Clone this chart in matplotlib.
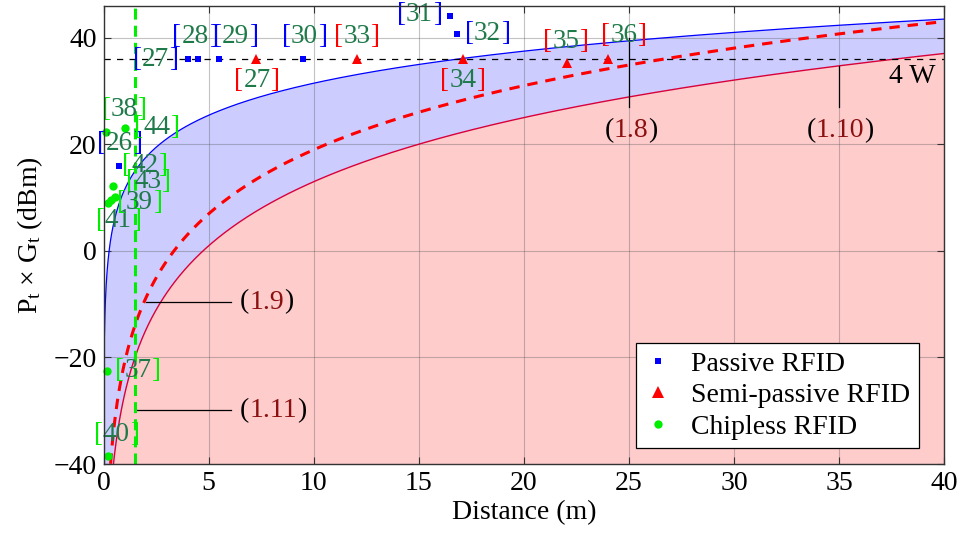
import numpy as np
import matplotlib
matplotlib.use("Agg")
import matplotlib.pyplot as plt
from matplotlib.offsetbox import TextArea, HPacker, AnnotationBbox
from matplotlib.lines import Line2D

plt.rcParams['font.family'] = ['Liberation Serif', 'DejaVu Serif']
plt.rcParams['mathtext.fontset'] = 'custom'
plt.rcParams['mathtext.rm'] = 'Liberation Serif'
plt.rcParams['mathtext.it'] = 'Liberation Serif:italic'

# ---------------- data ----------------
# Passive RFID (blue squares)
passive_x = [0.75, 4.0, 4.5, 5.5, 9.5, 16.5, 16.8]
passive_y = [16.0, 36.0, 36.0, 36.0, 36.0, 44.2, 40.8]
passive_refs = ['26', '27', '28', '29', '30', '31', '32']
passive_off = [(0, 22), (-32, 0), (-3, 23), (16, 23), (1, 23), (-31, 1), (31, 0)]

# Semi-passive RFID (red triangles)
semi_x = [7.25, 12.05, 17.1, 22.05, 24.0]
semi_y = [36.0, 36.0, 36.0, 35.3, 36.0]
semi_refs = ['27', '33', '34', '35', '36']
semi_off = [(1, -21), (0, 23), (0, -21), (-1, 21), (16, 24)]

# Chipless RFID (green circles)
chip_x = [0.12, 1.0, 0.45, 0.55, 0.22, 0.38, 0.15, 0.22]
chip_y = [22.4, 23.0, 12.2, 10.1, 9.1, 9.5, -22.5, -38.5]
chip_refs = ['38', '44', '42', '43', '41', '39', '37', '40']
chip_off = [(18, 22), (32, 1), (32, 21), (33, 16), (10, -18), (28, -2), (31, 0), (8, 22)]

# Theoretical curves: EIRP(d) = 10*n*log10(d) + offset  (n, offset)
blue_n, blue_off = 2.0, 11.5          # upper bound (blue)
red_n, red_off = 4.0, -27.0           # lower bound (solid)
redd_n, redd_off = 4.0, -21.0         # dashed
limit_dbm = 36.0                      # 4 W
chipless_range = 1.5                  # green vertical line

# equation labels: (text, x, y, alignment) and leader lines
eq_labels = [('1.9', 6.5, -9.6, 'left'), ('1.11', 6.5, -29.9, 'left'),
             ('1.8', 25.1, 22.6, 'center'), ('1.10', 35.05, 22.6, 'center')]
leaders = [([2.0, 6.05], [-9.6, -9.6]), ([1.5, 6.05], [-29.9, -29.9]),
           ([25.0, 25.0], [40.0, 27.0]), ([35.0, 35.0], [34.8, 27.0])]

xticks = [0, 5, 10, 15, 20, 25, 30, 35, 40]
yticks = [-40, -20, 0, 20, 40]

# ---------------- styling ----------------
BLUE = '#0000ff'
RED = '#ff0000'
GREEN = '#00ee00'
NUMC = '#1f7a4a'
EQC = '#8b1010'
FS = 19.5
TFS = 20

fig = plt.figure(figsize=(9.59, 5.36), dpi=100)
ax = fig.add_axes([103.5 / 959, 1 - 464 / 536, (944 - 103.5) / 959, (464 - 6) / 536])

d = np.logspace(-3, np.log10(40), 1500)
yb = 10 * blue_n * np.log10(d) + blue_off
yr = 10 * red_n * np.log10(d) + red_off
yrd = 10 * redd_n * np.log10(d) + redd_off

ax.fill_between(d, -60, yr, color='#ffcccc', lw=0, zorder=1)
ax.fill_between(d, yr, yb, color='#ccccff', lw=0, zorder=1)
ax.plot(d, yb, color=BLUE, lw=0.9, zorder=2)
ax.plot(d, yr, color='#d8003a', lw=1.0, zorder=2)
ax.plot(d, yrd, color=RED, lw=2.2, linestyle=(0, (3.4, 2.6)), zorder=2.1)
ax.axhline(limit_dbm, color='k', lw=0.9, linestyle=(0, (5, 5)), zorder=2)
ax.axvline(chipless_range, color=GREEN, lw=2.2, linestyle=(0, (3.6, 2.0)), zorder=2.3)

for (xs, ys) in leaders:
    ax.plot(xs, ys, color='k', lw=0.9, zorder=2.2)

ax.plot(passive_x, passive_y, 's', color=BLUE, ms=4.8, mew=0, zorder=3, clip_on=False)
ax.plot(semi_x, semi_y, '^', color=RED, ms=7.5, mew=0, zorder=3, clip_on=False)
ax.plot(chip_x, chip_y, 'o', color=GREEN, ms=6, mew=0, zorder=3, clip_on=False)


def cite(x, y, num, bcol, off):
    parts = [TextArea('[', textprops=dict(color=bcol, fontsize=FS)),
             TextArea(num, textprops=dict(color=NUMC, fontsize=FS)),
             TextArea(']', textprops=dict(color=bcol, fontsize=FS))]
    box = HPacker(children=parts, align='baseline', pad=0, sep=0)
    ab = AnnotationBbox(box, (x, y), xybox=off, xycoords='data',
                        boxcoords='offset pixels', frameon=False,
                        box_alignment=(0.5, 0.5), pad=0, zorder=4)
    ax.add_artist(ab)


for x, y, r, o in zip(passive_x, passive_y, passive_refs, passive_off):
    cite(x, y, r, BLUE, o)
for x, y, r, o in zip(semi_x, semi_y, semi_refs, semi_off):
    cite(x, y, r, RED, o)
for x, y, r, o in zip(chip_x, chip_y, chip_refs, chip_off):
    cite(x, y, r, GREEN, o)

for txt, x, y, ha in eq_labels:
    parts = [TextArea('(', textprops=dict(color='k', fontsize=TFS)),
             TextArea(txt, textprops=dict(color=EQC, fontsize=TFS)),
             TextArea(')', textprops=dict(color='k', fontsize=TFS))]
    box = HPacker(children=parts, align='baseline', pad=0, sep=0)
    ab = AnnotationBbox(box, (x, y), xycoords='data', frameon=False,
                        box_alignment=(0.0 if ha == 'left' else 0.5, 0.5), pad=0, zorder=4)
    ax.add_artist(ab)

ax.text(39.6, 32.8, '4 W', fontsize=TFS, color='k', ha='right', va='center', zorder=4)

ax.set_xlim(0, 40)
ax.set_ylim(-40, 46)
ax.set_xticks(xticks)
ax.set_yticks(yticks)
ax.grid(True, color='#555555', alpha=0.35, lw=0.8)
ax.set_axisbelow('line')
ax.tick_params(direction='in', top=True, right=True, length=5, width=0.8,
               labelsize=TFS, pad=5, color='#333333')
for s in ax.spines.values():
    s.set_linewidth(1.0)
    s.set_color('#333333')
    s.set_zorder(5)

ax.set_xlabel('Distance (m)', fontsize=TFS, labelpad=3)
ax.set_ylabel(r'$\mathregular{P_t}$ × $\mathregular{G_t}$ (dBm)', fontsize=TFS, labelpad=6)

handles = [Line2D([], [], ls='none', marker='s', color=BLUE, ms=5, mew=0),
           Line2D([], [], ls='none', marker='^', color=RED, ms=8, mew=0),
           Line2D([], [], ls='none', marker='o', color=GREEN, ms=6, mew=0)]
leg = ax.legend(handles, ['Passive RFID', 'Semi-passive RFID', 'Chipless RFID'],
                loc='lower right', bbox_to_anchor=(0.970, 0.035), borderaxespad=0,
                fontsize=TFS, fancybox=False, framealpha=1, edgecolor='k',
                handlelength=1.0, handletextpad=0.7, labelspacing=0.22,
                borderpad=0.3)
leg.get_frame().set_linewidth(0.9)
leg.set_zorder(6)

fig.savefig('out.png', dpi=100)
